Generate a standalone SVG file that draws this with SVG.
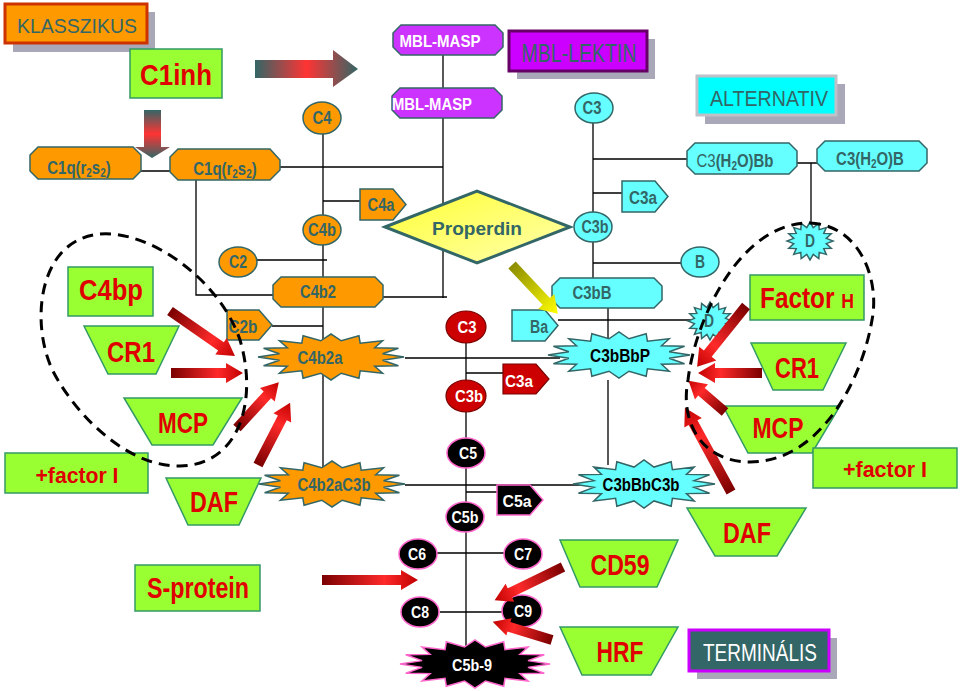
<svg xmlns="http://www.w3.org/2000/svg" xmlns:xlink="http://www.w3.org/1999/xlink" width="960" height="691" viewBox="0 0 960 691">
<style>
text{font-family:"Liberation Sans",Arial,sans-serif;text-anchor:middle}
.o{fill:#FF9900;stroke:#336666;stroke-width:1.5}
.c{fill:#66FFFF;stroke:#336666;stroke-width:1.5}
.p{fill:#CC33FF;stroke:#336666;stroke-width:1.5}
.g{fill:#99FF33;stroke:#339966;stroke-width:1.5}
.r{fill:#CC0000;stroke:#7A0000;stroke-width:1.2}
.k{fill:#000;stroke:#FF66CC;stroke-width:1.5}
.to{fill:#336666;font-weight:bold;font-size:18px}
.tw{fill:#fff;font-weight:bold;font-size:17px}
.tk{fill:#000;font-weight:bold;font-size:18px}
.tr{fill:#E00000;font-weight:bold;font-size:29px}
.tt{font-size:22px}
.ln{stroke:#000;stroke-width:1.3;fill:none}
.dash{stroke:#000;stroke-width:3;stroke-dasharray:11 7;fill:none}
.ar{fill:url(#gr)}
.sh{fill:#A8A8B8}
</style>
<defs>
<linearGradient id="gr" x1="0" y1="0" x2="1" y2="0"><stop offset="0" stop-color="#7A0000"/><stop offset="0.65" stop-color="#FF2A2A"/><stop offset="1" stop-color="#C00000"/></linearGradient>
<linearGradient id="gy" x1="0" y1="0" x2="1" y2="0"><stop offset="0" stop-color="#8C8C00"/><stop offset="1" stop-color="#FFFF00"/></linearGradient>
<linearGradient id="gh" x1="0" y1="0" x2="1" y2="0"><stop offset="0" stop-color="#336666"/><stop offset="0.5" stop-color="#FF3333"/><stop offset="1" stop-color="#336666"/></linearGradient>
<linearGradient id="gv" x1="0" y1="0" x2="0" y2="1"><stop offset="0" stop-color="#336666"/><stop offset="0.5" stop-color="#FF3333"/><stop offset="1" stop-color="#336666"/></linearGradient>
<linearGradient id="gp" x1="0" y1="0" x2="1" y2="1"><stop offset="0" stop-color="#FFFF33"/><stop offset="1" stop-color="#FFFFB0"/></linearGradient>
<path id="star" vector-effect="non-scaling-stroke" d="M1,0 L0.7062,0.1405 L0.9239,0.3827 L0.5987,0.4 L0.7071,0.7071 L0.4,0.5987 L0.3827,0.9239 L0.1405,0.7062 L0,1 L-0.1405,0.7062 L-0.3827,0.9239 L-0.4,0.5987 L-0.7071,0.7071 L-0.5987,0.4 L-0.9239,0.3827 L-0.7062,0.1405 L-1,0 L-0.7062,-0.1405 L-0.9239,-0.3827 L-0.5987,-0.4 L-0.7071,-0.7071 L-0.4,-0.5987 L-0.3827,-0.9239 L-0.1405,-0.7062 L0,-1 L0.1405,-0.7062 L0.3827,-0.9239 L0.4,-0.5987 L0.7071,-0.7071 L0.5987,-0.4 L0.9239,-0.3827 L0.7062,-0.1405 Z"/>
</defs>
<rect width="960" height="691" fill="#fff"/>

<g id="connectors">
<path class="ln" d="M141,171H170 M280,167H443 M443,55V88 M443,118V298 M383,297H447 M196,180V295H273 M323,133V470 M323,201H360 M257,260H327 M272,326H323 M405,358H560 M405,485H580 M593,108V278 M593,159H687 M593,193H622 M593,263H681 M608,308V340 M608,380V465 M558,320H692 M797,163H817 M811,163V222 M466,327V655 M466,373H503 M466,492H497 M436,553H505 M440,612H505"/>
</g>

<g id="title-klasszikus"><rect class="sh" x="13" y="12" width="142" height="40"/><rect x="5" y="4" width="142" height="39" fill="#FF9900" stroke="#CC3300" stroke-width="3"/><text x="77" y="33" fill="#336666" font-size="21" textLength="120" lengthAdjust="spacingAndGlyphs">KLASSZIKUS</text></g>
<g id="title-mbl"><rect class="sh" x="517" y="39" width="138" height="40"/><rect x="509" y="31" width="138" height="40" fill="#CC00FF" stroke="#660066" stroke-width="3"/><text x="579" y="62" fill="#336666" font-size="25" textLength="115" lengthAdjust="spacingAndGlyphs">MBL-LEKTIN</text></g>
<g id="title-alternativ"><rect class="sh" x="705" y="84" width="140" height="40"/><rect x="697" y="76" width="139" height="39" fill="#00FFFF" stroke="#C0C0C8" stroke-width="3"/><text x="769" y="106" fill="#336666" font-size="22" textLength="118" lengthAdjust="spacingAndGlyphs">ALTERNATIV</text></g>
<g id="title-terminalis"><rect class="sh" x="697" y="638" width="140" height="41"/><rect x="689" y="630" width="140" height="41" fill="#336666" stroke="#CC00FF" stroke-width="3"/><text x="760" y="661" fill="#fff" font-size="23" textLength="114" lengthAdjust="spacingAndGlyphs">TERMINÁLIS</text></g>

<g id="C1inh"><rect class="g" x="130" y="49" width="92" height="49"/><text class="tr" x="176" y="85" textLength="72" lengthAdjust="spacingAndGlyphs">C1inh</text></g>
<g id="arrow-top"><path d="M255,60H333V50L358,69L333,87V78H255Z" fill="url(#gh)"/></g>
<g id="arrow-down"><path d="M144,110H161V147H170L152,158L135,147H144Z" fill="url(#gv)"/></g>

<g id="C1q-1"><polygon class="o" points="38,147 133,147 141,155 141,171 133,179 38,179 30,171 30,155"/><text class="to" transform="translate(79,174) scale(0.83,1)">C1q(r<tspan font-size="12" dy="3">2</tspan><tspan dy="-3">s</tspan><tspan font-size="12" dy="3">2</tspan><tspan dy="-3">)</tspan></text></g>
<g id="C1q-2"><polygon class="o" points="178,149 270,149 280,160 280,170 270,180 178,180 170,172 170,157"/><text class="to" transform="translate(225,175) scale(0.83,1)">C1q(r<tspan font-size="12" dy="3">2</tspan><tspan dy="-3">s</tspan><tspan font-size="12" dy="3">2</tspan><tspan dy="-3">)</tspan></text></g>
<g id="MBL-MASP-1"><polygon class="p" points="401,25 495,25 503,33 503,47 495,55 401,55 393,47 393,33"/><text class="tw" x="440" y="47" font-size="19" textLength="81" lengthAdjust="spacingAndGlyphs">MBL-MASP</text></g>
<g id="MBL-MASP-2"><polygon class="p" points="400,88 494,88 502,96 502,110 494,118 400,118 392,110 392,96"/><text class="tw" x="432" y="110" font-size="19" textLength="80" lengthAdjust="spacingAndGlyphs">MBL-MASP</text></g>

<g id="C4"><ellipse class="o" cx="322" cy="118" rx="19" ry="16"/><text class="to" x="322" y="124" textLength="19" lengthAdjust="spacingAndGlyphs">C4</text></g>
<g id="C4a"><polygon class="o" points="360,189 393,189 406,204.5 393,220 360,220"/><text class="to" x="381" y="211" textLength="27" lengthAdjust="spacingAndGlyphs">C4a</text></g>
<g id="C4b"><ellipse class="o" cx="322" cy="230" rx="19" ry="15"/><text class="to" x="322" y="236" textLength="28" lengthAdjust="spacingAndGlyphs">C4b</text></g>
<g id="C2"><ellipse class="o" cx="238" cy="262" rx="19" ry="15"/><text class="to" x="238" y="268" textLength="18" lengthAdjust="spacingAndGlyphs">C2</text></g>
<g id="C4b2"><polygon class="o" points="281,277 375,277 383,285 383,299 375,307 281,307 273,299 273,285"/><text class="to" x="318" y="298" textLength="36" lengthAdjust="spacingAndGlyphs">C4b2</text></g>
<g id="C2b"><polygon class="o" points="227,310 259,310 272,325 259,340 227,340"/><text class="to" x="243" y="333" textLength="29" lengthAdjust="spacingAndGlyphs">C2b</text></g>
<g id="C4b2a"><use xlink:href="#star" class="o" transform="translate(331,357) scale(73,23)"/><text class="to" x="320" y="364" textLength="45" lengthAdjust="spacingAndGlyphs">C4b2a</text></g>
<g id="C4b2aC3b"><use xlink:href="#star" class="o" transform="translate(332,484) scale(73,23)"/><text class="to" x="334" y="491" textLength="73" lengthAdjust="spacingAndGlyphs">C4b2aC3b</text></g>

<g id="Properdin"><polygon points="385,227 477,191 570,227 477,263" fill="url(#gp)" stroke="#336666" stroke-width="3"/><text class="to" x="477" y="235" font-size="21" textLength="90" lengthAdjust="spacingAndGlyphs">Properdin</text></g>

<g id="C3-alt"><ellipse class="c" cx="594" cy="108" rx="19" ry="15"/><text class="to" x="592" y="114" textLength="19" lengthAdjust="spacingAndGlyphs">C3</text></g>
<g id="C3a-alt"><polygon class="c" points="622,181 655,181 668,196.5 655,212 622,212"/><text class="to" x="643" y="204" textLength="28" lengthAdjust="spacingAndGlyphs">C3a</text></g>
<g id="C3b-alt"><ellipse class="c" cx="593" cy="227" rx="19" ry="15"/><text class="to" x="595" y="233" textLength="27" lengthAdjust="spacingAndGlyphs">C3b</text></g>
<g id="B"><ellipse class="c" cx="700" cy="262" rx="19" ry="15"/><text class="to" x="700" y="268" textLength="10" lengthAdjust="spacingAndGlyphs">B</text></g>
<g id="C3H2OBb"><polygon class="c" points="695,143 789,143 797,151 797,166 789,174 695,174 687,166 687,151"/><text class="to" transform="translate(735,167) scale(0.83,1)"><tspan font-weight="normal">C3</tspan>(H<tspan font-size="12" dy="3">2</tspan><tspan dy="-3">O)Bb</tspan></text></g>
<g id="C3H2OB"><polygon class="c" points="825,141 919,141 927,149 927,163 919,171 825,171 817,163 817,149"/><text class="to" transform="translate(870,165) scale(0.83,1)">C3(H<tspan font-size="12" dy="3">2</tspan><tspan dy="-3">O)B</tspan></text></g>
<g id="D-top"><use xlink:href="#star" class="c" transform="translate(810,241) scale(23,19)"/><text class="to" x="810" y="247" font-size="16" textLength="10" lengthAdjust="spacingAndGlyphs">D</text></g>
<g id="C3bB"><polygon class="c" points="560,278 654,278 662,286 662,300 654,308 560,308 552,300 552,286"/><text class="to" x="592" y="299" textLength="39" lengthAdjust="spacingAndGlyphs">C3bB</text></g>
<g id="Ba"><polygon class="c" points="512,310 545,310 558,325.5 545,341 512,341"/><text class="to" x="539" y="333" textLength="18" lengthAdjust="spacingAndGlyphs">Ba</text></g>
<g id="D-mid"><use xlink:href="#star" class="c" transform="translate(710,321) scale(22,19)"/><text class="to" x="709" y="327" font-size="16" textLength="10" lengthAdjust="spacingAndGlyphs">D</text></g>
<g id="C3bBbP"><use xlink:href="#star" class="c" transform="translate(619,355) scale(71,23)"/><text class="tk" x="620" y="362" textLength="60" lengthAdjust="spacingAndGlyphs">C3bBbP</text></g>
<g id="C3bBbC3b"><use xlink:href="#star" class="c" transform="translate(644,484) scale(71,24)"/><text class="tk" x="641" y="491" textLength="77" lengthAdjust="spacingAndGlyphs">C3bBbC3b</text></g>

<g id="C3-red"><ellipse class="r" cx="466" cy="327" rx="20" ry="16"/><text class="tw" x="467" y="333" font-size="18" textLength="19" lengthAdjust="spacingAndGlyphs">C3</text></g>
<g id="C3a-red"><polygon class="r" points="503,364 536,364 549,379 536,394 503,394"/><text class="tw" x="519" y="387" font-size="18" textLength="28" lengthAdjust="spacingAndGlyphs">C3a</text></g>
<g id="C3b-red"><ellipse class="r" cx="466" cy="396" rx="20" ry="16"/><text class="tw" x="469" y="402" font-size="18" textLength="28" lengthAdjust="spacingAndGlyphs">C3b</text></g>
<g id="C5"><ellipse class="k" cx="466" cy="453" rx="19" ry="15"/><text class="tw" x="468" y="459" textLength="18" lengthAdjust="spacingAndGlyphs">C5</text></g>
<g id="C5a"><polygon class="k" points="497,485 530,485 543,500 530,515 497,515"/><text class="tw" x="517" y="507" textLength="29" lengthAdjust="spacingAndGlyphs">C5a</text></g>
<g id="C5b"><ellipse class="k" cx="465" cy="517" rx="19" ry="15"/><text class="tw" x="465" y="523" textLength="27" lengthAdjust="spacingAndGlyphs">C5b</text></g>
<g id="C6"><ellipse class="k" cx="418" cy="554" rx="19" ry="15"/><text class="tw" x="417" y="560" textLength="18" lengthAdjust="spacingAndGlyphs">C6</text></g>
<g id="C7"><ellipse class="k" cx="523" cy="554" rx="19" ry="15"/><text class="tw" x="523" y="560" textLength="18" lengthAdjust="spacingAndGlyphs">C7</text></g>
<g id="C8"><ellipse class="k" cx="420" cy="612" rx="19" ry="15"/><text class="tw" x="420" y="618" textLength="18" lengthAdjust="spacingAndGlyphs">C8</text></g>
<g id="C9"><ellipse class="k" cx="522" cy="611" rx="20" ry="16"/><text class="tw" x="523" y="617" textLength="18" lengthAdjust="spacingAndGlyphs">C9</text></g>
<g id="C5b-9"><use xlink:href="#star" class="k" transform="translate(475,664) scale(75,24)"/><text class="tw" x="472" y="671" textLength="40" lengthAdjust="spacingAndGlyphs">C5b-9</text></g>

<g id="C4bp"><rect class="g" x="68" y="267" width="85" height="49"/><text class="tr" x="111" y="300" textLength="64" lengthAdjust="spacingAndGlyphs">C4bp</text></g>
<g id="CR1-left"><polygon class="g" points="84,326 179,326 156,374 108,374"/><text class="tr" x="131" y="362" textLength="48" lengthAdjust="spacingAndGlyphs">CR1</text></g>
<g id="MCP-left"><polygon class="g" points="124,398 242,398 213,445 152,445"/><text class="tr" x="183" y="433" textLength="50" lengthAdjust="spacingAndGlyphs">MCP</text></g>
<g id="factorI-left"><rect class="g" x="5" y="453" width="143" height="40"/><text class="tr tt" x="77" y="483" textLength="83" lengthAdjust="spacingAndGlyphs">+factor I</text></g>
<g id="DAF-left"><polygon class="g" points="166,478 261,478 239,525 188,525"/><text class="tr" x="214" y="512" textLength="48" lengthAdjust="spacingAndGlyphs">DAF</text></g>
<g id="S-protein"><rect class="g" x="135" y="565" width="125" height="46"/><text class="tr" x="198" y="598" font-size="28" textLength="102" lengthAdjust="spacingAndGlyphs">S-protein</text></g>
<g id="FactorH"><rect class="g" x="750" y="275" width="114" height="45"/><text class="tr" font-size="28" transform="translate(807,308) scale(0.84,1)">Factor <tspan font-size="21">H</tspan></text></g>
<g id="CR1-right"><polygon class="g" points="751,343 846,343 823,390 773,390"/><text class="tr" x="797" y="378" textLength="44" lengthAdjust="spacingAndGlyphs">CR1</text></g>
<g id="MCP-right"><polygon class="g" points="723,406 840,406 812,453 748,453"/><text class="tr" x="778" y="438" textLength="51" lengthAdjust="spacingAndGlyphs">MCP</text></g>
<g id="factorI-right"><rect class="g" x="813" y="448" width="144" height="40"/><text class="tr tt" x="885" y="477" textLength="84" lengthAdjust="spacingAndGlyphs">+factor I</text></g>
<g id="DAF-right"><polygon class="g" points="687,508 806,508 777,556 715,556"/><text class="tr" x="747" y="543" textLength="48" lengthAdjust="spacingAndGlyphs">DAF</text></g>
<g id="CD59"><polygon class="g" points="560,540 678,540 657,587 580,587"/><text class="tr" x="620" y="575" textLength="59" lengthAdjust="spacingAndGlyphs">CD59</text></g>
<g id="HRF"><polygon class="g" points="560,627 678,627 651,675 582,675"/><text class="tr" x="620" y="662" textLength="47" lengthAdjust="spacingAndGlyphs">HRF</text></g>

<g id="block-arrows">
<path class="ar" transform="translate(170,311) rotate(34.7)" d="M0,-5H62V-10L79,0L62,10V5H0Z"/>
<path class="ar" transform="translate(171,373)" d="M0,-5H55V-10L72,0L55,10V5H0Z"/>
<path class="ar" transform="translate(237,428) rotate(-47.6)" d="M0,-5H45V-10L62,0L45,10V5H0Z"/>
<path class="ar" transform="translate(258,465) rotate(-62.7)" d="M0,-5H53V-10L70,0L53,10V5H0Z"/>
<path class="ar" transform="translate(322,580)" d="M0,-5H79V-10L96,0L79,10V5H0Z"/>
<path class="ar" transform="translate(563,567) rotate(154.1)" d="M0,-5H59V-10L76,0L59,10V5H0Z"/>
<path class="ar" transform="translate(552,640) rotate(-163)" d="M0,-5H45V-9L62,0L45,9V5H0Z"/>
<path class="ar" transform="translate(746,306) rotate(128.8)" d="M0,-5H61V-11L78,0L61,11V5H0Z"/>
<path class="ar" transform="translate(762,373) rotate(180)" d="M0,-5H47V-10L64,0L47,10V5H0Z"/>
<path class="ar" transform="translate(725,412) rotate(-139.4)" d="M0,-5H31V-10L48,0L31,10V5H0Z"/>
<path class="ar" transform="translate(731,492) rotate(-118.7)" d="M0,-5H79V-10L96,0L79,10V5H0Z"/>
<path fill="url(#gy)" transform="translate(512,265) rotate(46.8)" d="M0,-5H50V-11L67,0L50,11V5H0Z"/>
</g>

<g id="groups-dashed">
<path class="dash" d="M100,234 C150,230 220,280 240,340 C258,400 240,465 180,466 C130,467 80,420 55,375 C30,330 35,240 100,234 Z"/>
<path class="dash" d="M810,223 C860,225 880,280 872,320 C862,380 820,462 750,462 C700,462 680,420 688,380 C695,320 740,222 810,223 Z"/>
</g>
</svg>
